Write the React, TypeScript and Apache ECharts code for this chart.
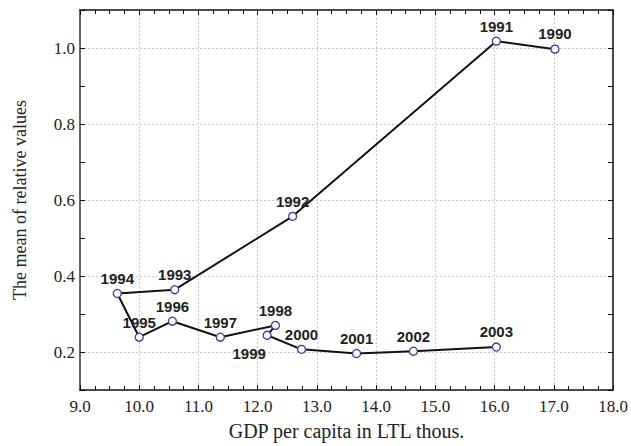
import React, { useEffect, useRef } from "react";
import * as echarts from "echarts";

const years = ["1990", "1991", "1992", "1993", "1994", "1995", "1996", "1997", "1998", "1999", "2000", "2001", "2002", "2003"];
const gdp = [17.02, 16.03, 12.59, 10.6, 9.63, 10.0, 10.56, 11.37, 12.3, 12.16, 12.74, 13.67, 14.63, 16.03];
const meanValues = [0.997, 1.018, 0.557, 0.364, 0.354, 0.239, 0.281, 0.239, 0.27, 0.244, 0.207, 0.196, 0.202, 0.213];
const belowLabelYears = ["1999"];

const serif = "Liberation Serif";
const sans = "Liberation Sans";

export default function App() {
  const ref = useRef<HTMLDivElement>(null);
  useEffect(() => {
    if (!ref.current) return;
    document.body.style.margin = "0";
    const chart = echarts.init(ref.current, null, { renderer: "svg" });
    const data = years.map((y, i) => {
      const item: any = { name: y, value: [gdp[i], meanValues[i]] };
      if (belowLabelYears.includes(y)) {
        item.label = { position: "bottom", distance: 6, offset: [-18, 0] };
      }
      return item;
    });
    const xCommon = {
      type: "value",
      min: 9,
      max: 18,
      interval: 1,
      axisLine: { show: true, lineStyle: { color: "#111", width: 1.5 } },
      axisTick: { show: true, inside: true, length: 5, lineStyle: { color: "#111" } },
      minorTick: { show: true, splitNumber: 4, length: 4, lineStyle: { color: "#111" } },
    };
    const yCommon = {
      type: "value",
      min: 0.1,
      max: 1.1,
      interval: 0.1,
      axisTick: { show: true, inside: true, length: 5, lineStyle: { color: "#111" } },
    };
    chart.setOption({
      animation: false,
      backgroundColor: "#fff",
      textStyle: { fontFamily: serif },
      grid: { left: 80, right: 18, top: 10, bottom: 53 },
      xAxis: [
        {
          ...xCommon,
          position: "bottom",
          name: "GDP per capita in LTL thous.",
          nameLocation: "middle",
          nameGap: 31,
          nameTextStyle: { fontFamily: serif, fontSize: 20, color: "#222" },
          axisLabel: {
            margin: 8,
            fontFamily: serif,
            fontSize: 17,
            color: "#222",
            formatter: (v: number) => v.toFixed(1),
          },
          splitLine: { show: true, lineStyle: { color: "#c8c8c8", type: [2, 2], width: 1 } },
        },
        {
          ...xCommon,
          position: "top",
          axisLabel: { show: false },
          splitLine: { show: false },
        },
      ],
      yAxis: [
        {
          ...yCommon,
          position: "left",
          name: "The mean of relative values",
          nameLocation: "middle",
          nameGap: 51,
          nameTextStyle: { fontFamily: serif, fontSize: 18, color: "#222" },
          axisLine: { show: true, lineStyle: { color: "#666", width: 2 } },
          axisLabel: {
            margin: 5,
            fontFamily: serif,
            fontSize: 17,
            color: "#222",
            formatter: (v: number) => (Math.round(v * 10) % 2 === 0 ? v.toFixed(1) : ""),
          },
          splitLine: {
            show: true,
            lineStyle: { color: ["rgba(0,0,0,0)", "#c8c8c8"], type: [2, 2], width: 1 },
          },
        },
        {
          ...yCommon,
          position: "right",
          axisLine: { show: true, lineStyle: { color: "#111", width: 1.5 } },
          axisLabel: { show: false },
          splitLine: { show: false },
        },
      ],
      series: [
        {
          type: "line",
          xAxisIndex: 0,
          yAxisIndex: 0,
          data,
          symbol: "circle",
          symbolSize: 8,
          lineStyle: { color: "#111", width: 2 },
          itemStyle: { color: "#fff", borderColor: "#3b3ba8", borderWidth: 1.3 },
          label: {
            show: true,
            position: "top",
            distance: 3,
            formatter: (p: any) => p.name,
            fontFamily: sans,
            fontWeight: "bold",
            fontSize: 15,
            color: "#222",
          },
          z: 3,
        },
      ],
    });
    return () => chart.dispose();
  }, []);
  return (
    <div
      ref={ref}
      style={{ position: "absolute", left: 0, top: 0, width: 631, height: 446, overflow: "hidden" }}
    />
  );
}
